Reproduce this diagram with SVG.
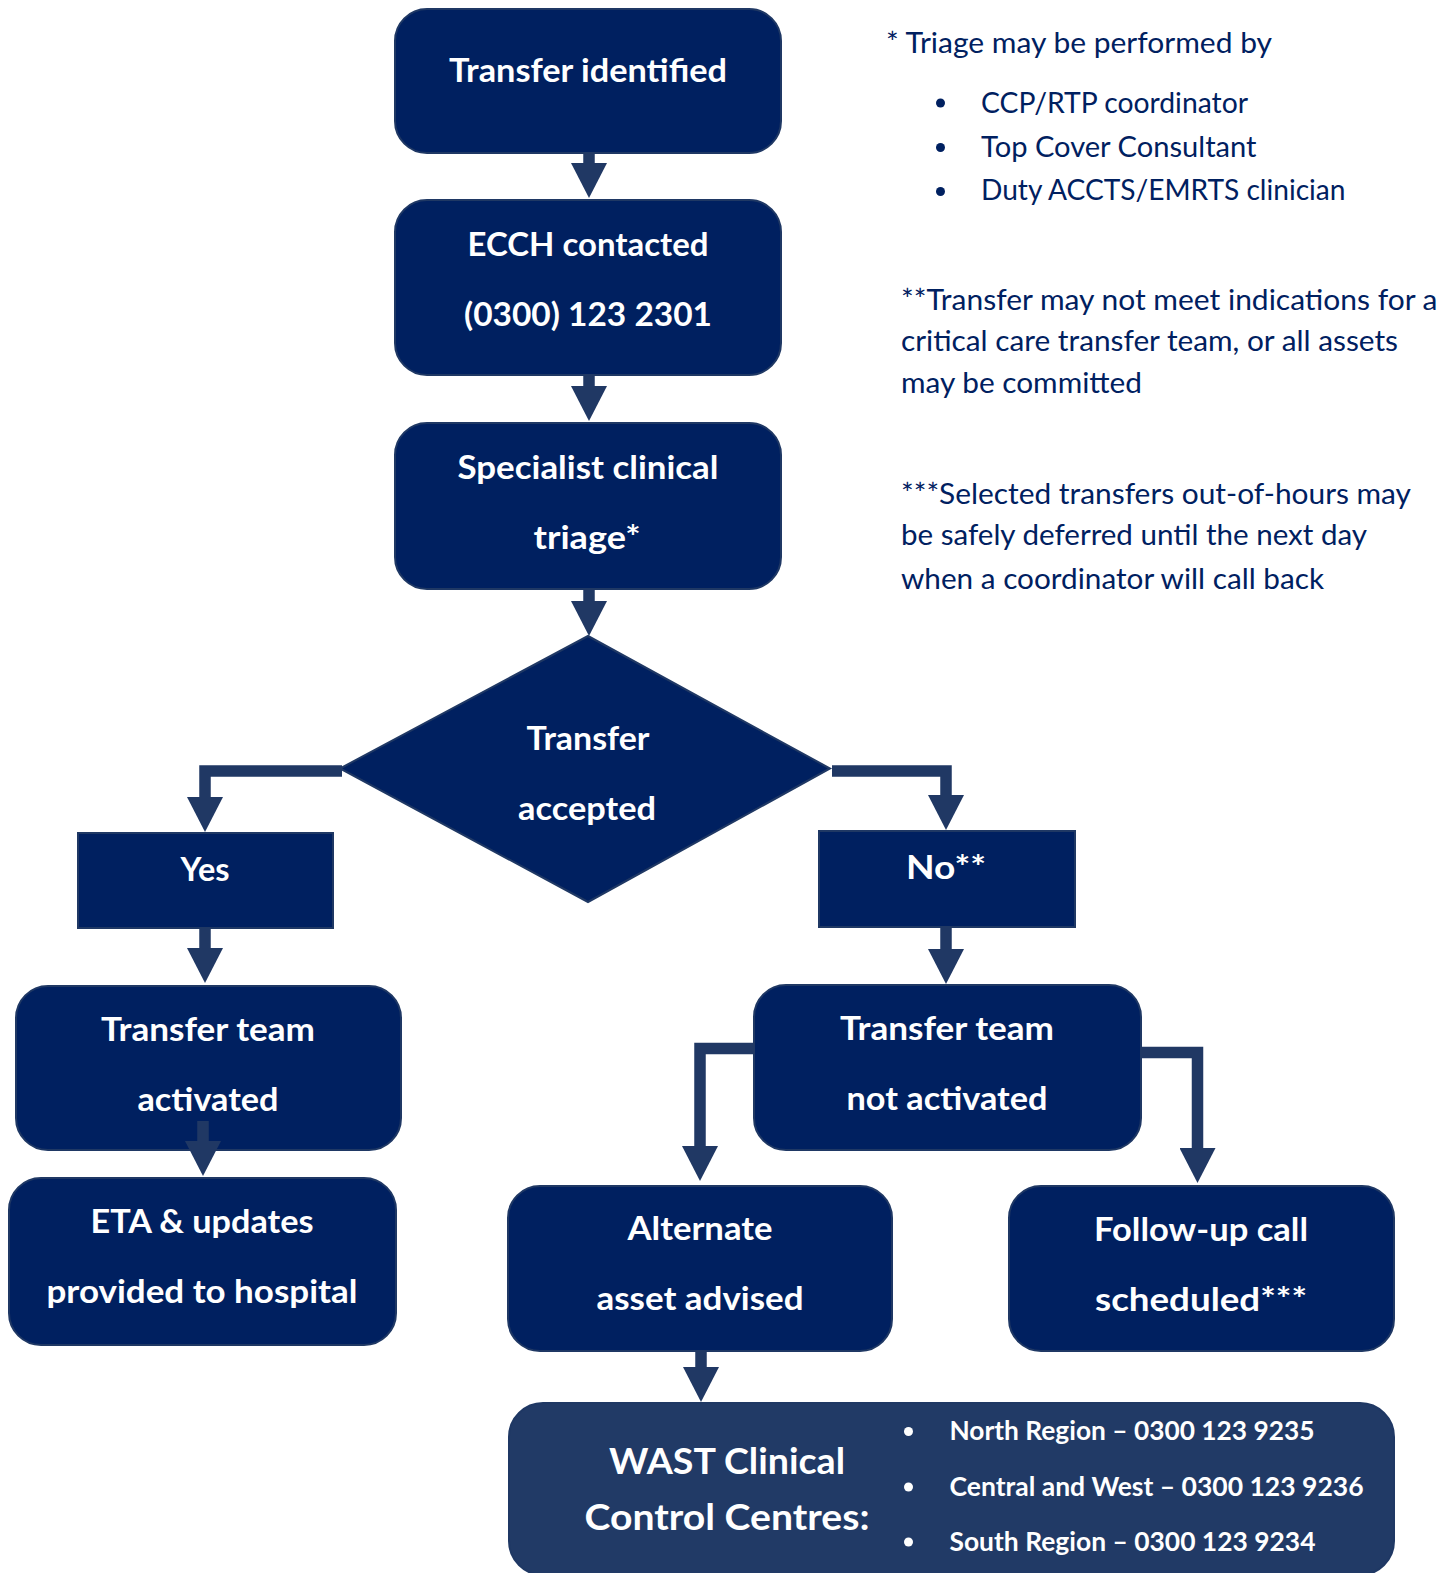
<svg xmlns="http://www.w3.org/2000/svg" width="1446" height="1573" viewBox="0 0 1446 1573">
<defs>
<marker id="ah" markerUnits="userSpaceOnUse" viewBox="0 0 35 36" markerWidth="35" markerHeight="36" refX="1" refY="18" orient="auto">
<path d="M0,0 L35,18 L0,36 Z" fill="#203864"/>
</marker>
<style>
.node{fill:#002060;stroke:#1F3864;stroke-width:2}
.wast{fill:#213A66;stroke:#1F3864;stroke-width:2}
.t{font-family:Lato,"Open Sans",sans-serif;font-weight:bold;font-size:32.5px;fill:#ffffff;text-anchor:middle}
.tw{font-family:Lato,"Open Sans",sans-serif;font-weight:bold;font-size:36px;fill:#ffffff;text-anchor:middle}
.tb{font-family:Lato,"Open Sans",sans-serif;font-weight:bold;font-size:26px;fill:#ffffff}
.n{font-family:Lato,"Open Sans",sans-serif;font-size:28.3px;fill:#002060}
.conn{fill:none;stroke:#203864;stroke-width:11.5;stroke-linejoin:miter;marker-end:url(#ah)}
</style>
</defs>
<rect width="1446" height="1573" fill="#ffffff"/>

<g id="n1">
<rect class="node" x="395" y="9" width="386" height="144" rx="32"/>
<text class="t" x="588" y="82" textLength="278" lengthAdjust="spacingAndGlyphs">Transfer identified</text>
</g>
<g id="n2">
<rect class="node" x="395" y="200" width="386" height="175" rx="32"/>
<text class="t" x="588" y="255.5" textLength="241" lengthAdjust="spacingAndGlyphs">ECCH contacted</text>
<text class="t" x="588" y="325.5" textLength="248" lengthAdjust="spacingAndGlyphs">(0300) 123 2301</text>
</g>
<g id="n3">
<rect class="node" x="395" y="423" width="386" height="166" rx="32"/>
<text class="t" x="588" y="479" textLength="261" lengthAdjust="spacingAndGlyphs">Specialist clinical</text>
<text class="t" x="587" y="549" textLength="107" lengthAdjust="spacingAndGlyphs">triage*</text>
</g>
<g id="decision">
<polygon class="node" points="588,636 830,768.5 588,902 340,768.5"/>
<text class="t" x="588" y="750" textLength="123" lengthAdjust="spacingAndGlyphs">Transfer</text>
<text class="t" x="587" y="820" textLength="138" lengthAdjust="spacingAndGlyphs">accepted</text>
</g>
<g id="yes">
<rect class="node" x="78" y="833" width="255" height="95"/>
<text class="t" x="205" y="881" textLength="49" lengthAdjust="spacingAndGlyphs">Yes</text>
</g>
<g id="no">
<rect class="node" x="819" y="831" width="256" height="96"/>
<text class="t" x="946" y="879" textLength="80" lengthAdjust="spacingAndGlyphs">No**</text>
</g>
<g id="activated">
<rect class="node" x="16" y="986" width="385" height="164" rx="32"/>
<text class="t" x="208" y="1041" textLength="214" lengthAdjust="spacingAndGlyphs">Transfer team</text>
<text class="t" x="208" y="1111" textLength="141" lengthAdjust="spacingAndGlyphs">activated</text>
</g>
<g id="eta">
<rect class="node" x="9" y="1178" width="387" height="167" rx="32"/>
<text class="t" x="202" y="1233" textLength="223" lengthAdjust="spacingAndGlyphs">ETA &amp; updates</text>
<text class="t" x="202" y="1303" textLength="311" lengthAdjust="spacingAndGlyphs">provided to hospital</text>
</g>
<g id="notactivated">
<rect class="node" x="754" y="985" width="387" height="165" rx="32"/>
<text class="t" x="947" y="1040" textLength="214" lengthAdjust="spacingAndGlyphs">Transfer team</text>
<text class="t" x="947" y="1110" textLength="201" lengthAdjust="spacingAndGlyphs">not activated</text>
</g>
<g id="alternate">
<rect class="node" x="508" y="1186" width="384" height="165" rx="32"/>
<text class="t" x="700" y="1240" textLength="145" lengthAdjust="spacingAndGlyphs">Alternate</text>
<text class="t" x="700" y="1310" textLength="207" lengthAdjust="spacingAndGlyphs">asset advised</text>
</g>
<g id="followup">
<rect class="node" x="1009" y="1186" width="385" height="165" rx="32"/>
<text class="t" x="1201" y="1241" textLength="214" lengthAdjust="spacingAndGlyphs">Follow-up call</text>
<text class="t" x="1201" y="1311" textLength="212" lengthAdjust="spacingAndGlyphs">scheduled***</text>
</g>
<g id="wast">
<rect class="wast" x="509" y="1403" width="885" height="172" rx="34"/>
<text class="tw" x="727" y="1474" textLength="236" lengthAdjust="spacingAndGlyphs">WAST Clinical</text>
<text class="tw" x="727" y="1530" textLength="285" lengthAdjust="spacingAndGlyphs">Control Centres:</text>
<circle cx="908.5" cy="1431.5" r="4.5" fill="#ffffff"/>
<circle cx="908.5" cy="1487" r="4.5" fill="#ffffff"/>
<circle cx="908.5" cy="1542" r="4.5" fill="#ffffff"/>
<text class="tb" x="949.5" y="1440" textLength="365" lengthAdjust="spacingAndGlyphs">North Region – 0300 123 9235</text>
<text class="tb" x="949.5" y="1495.5" textLength="414" lengthAdjust="spacingAndGlyphs">Central and West – 0300 123 9236</text>
<text class="tb" x="949.5" y="1550.5" textLength="366" lengthAdjust="spacingAndGlyphs">South Region – 0300 123 9234</text>
</g>

<g id="connectors">
<path class="conn" d="M589,153 V164"/>
<path class="conn" d="M589,375 V387"/>
<path class="conn" d="M589,589 V602"/>
<path class="conn" d="M342,771 H205 V798"/>
<path class="conn" d="M832,771 H946 V796"/>
<path class="conn" d="M205,928 V949"/>
<path class="conn" d="M946,927 V950"/>
<path class="conn" d="M203,1121 V1142"/>
<path class="conn" d="M754,1048.5 H700 V1147"/>
<path class="conn" d="M1141,1052.5 H1197.5 V1149"/>
<path class="conn" d="M701,1351 V1368"/>
</g>

<g id="notes">
<text class="n" x="886" y="53" textLength="386" lengthAdjust="spacingAndGlyphs">* Triage may be performed by</text>
<circle cx="940.5" cy="103" r="4.5" fill="#002060"/>
<circle cx="940.5" cy="147.5" r="4.5" fill="#002060"/>
<circle cx="940.5" cy="191.5" r="4.5" fill="#002060"/>
<text class="n" x="981" y="112.5" textLength="267" lengthAdjust="spacingAndGlyphs">CCP/RTP coordinator</text>
<text class="n" x="981" y="156.5" textLength="275.5" lengthAdjust="spacingAndGlyphs">Top Cover Consultant</text>
<text class="n" x="981" y="199.5" textLength="364.5" lengthAdjust="spacingAndGlyphs">Duty ACCTS/EMRTS clinician</text>
<text class="n" x="901" y="309.5" textLength="536.5" lengthAdjust="spacingAndGlyphs">**Transfer may not meet indications for a</text>
<text class="n" x="901" y="351" textLength="497" lengthAdjust="spacingAndGlyphs">critical care transfer team, or all assets</text>
<text class="n" x="901" y="393" textLength="241" lengthAdjust="spacingAndGlyphs">may be committed</text>
<text class="n" x="901" y="503.5" textLength="510" lengthAdjust="spacingAndGlyphs">***Selected transfers out-of-hours may</text>
<text class="n" x="901" y="545" textLength="466" lengthAdjust="spacingAndGlyphs">be safely deferred until the next day</text>
<text class="n" x="901" y="588.5" textLength="423" lengthAdjust="spacingAndGlyphs">when a coordinator will call back</text>
</g>
</svg>
